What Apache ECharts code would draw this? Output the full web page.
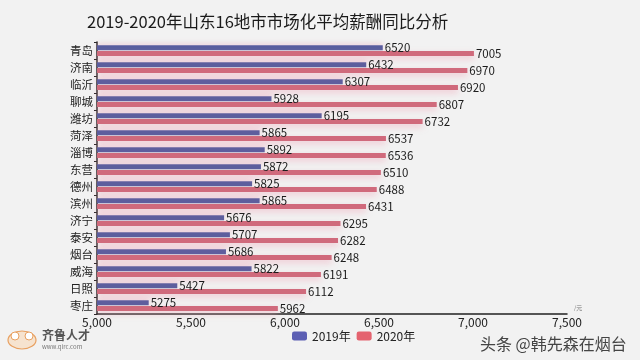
<!DOCTYPE html>
<html><head><meta charset="utf-8">
<script src="https://cdn.jsdelivr.net/npm/echarts@6/dist/echarts.min.js"></script>
<style>html,body{margin:0;padding:0;background:#f2f2f2}#c{width:640px;height:360px}</style>
</head><body><div id="c"></div>
<script>
const cities = ['青岛','济南','临沂','聊城','潍坊','菏泽','淄博','东营','德州','滨州','济宁','泰安','烟台','威海','日照','枣庄'];
const v2019 = [6520,6432,6307,5928,6195,5865,5892,5872,5825,5865,5676,5707,5686,5822,5427,5275];
const v2020 = [7005,6970,6920,6807,6732,6537,6536,6510,6488,6431,6295,6282,6248,6191,6112,5962];
const seriesNames = ['2019年','2020年'];
const xMin = 5000, xMax = 7500, xStep = 500;

const font = '"Noto Sans CJK SC", "Noto Sans", sans-serif';
const chart = echarts.init(document.getElementById('c'), null, {renderer:'canvas'});
chart.setOption({
  backgroundColor:'#f2f2f2',
  textStyle:{fontFamily:font},
  title:{text:'2019-2020年山东16地市市场化平均薪酬同比分析', left:82, top:8,
    textStyle:{fontSize:16.5, fontWeight:'normal', color:'#1a1a1a', fontFamily:font}},
  grid:{left:97, right:73, top:42, bottom:46},
  legend:{bottom:13, left:287, itemWidth:15, itemHeight:9, itemGap:6,
    textStyle:{fontSize:12, color:'#222', fontFamily:font},
    data:[{name:seriesNames[0], icon:'roundRect', itemStyle:{color:'#5c5fb3'}},
          {name:seriesNames[1], icon:'roundRect', itemStyle:{color:'#e4636f'}}]},
  xAxis:{type:'value', min:xMin, max:xMax, interval:xStep,
    axisLine:{show:true, lineStyle:{color:'#222', width:1.5}},
    axisTick:{show:false}, splitLine:{show:false},
    axisLabel:{fontSize:12, color:'#222', margin:2,
      formatter:v=>v.toLocaleString('en-US')}},
  yAxis:{type:'category', data:cities, inverse:true,
    axisLine:{show:true, lineStyle:{color:'#222', width:1.5}},
    axisTick:{show:true, length:3, lineStyle:{color:'#222'}},
    axisLabel:{fontSize:11.5, color:'#222', margin:4}},
  series:[
    {name:seriesNames[0], type:'bar', data:v2019, barWidth:5, barGap:'15%',
     itemStyle:{color:'#5a5d9f', shadowColor:'rgba(240,170,190,0.45)', shadowBlur:5, shadowOffsetY:-2},
     label:{show:true, position:'right', distance:2, fontSize:11.5, color:'#1a1a1a', fontFamily:font}},
    {name:seriesNames[1], type:'bar', data:v2020, barWidth:5,
     itemStyle:{color:'#d06a7c', shadowColor:'rgba(240,160,180,0.5)', shadowBlur:6, shadowOffsetY:3},
     label:{show:true, position:'right', distance:2, fontSize:11.5, color:'#1a1a1a', fontFamily:font}}
  ],
  graphic:[
    {type:'text', left:574, top:305, style:{text:'/元', fontSize:6, fill:'#777', fontFamily:font}},
    {type:'text', left:480, top:336, style:{text:'头条 @韩先森在烟台', fontSize:16, fill:'#444', fontFamily:font}},
    {type:'ellipse', shape:{cx:22, cy:340, rx:14, ry:9}, style:{fill:'#f6e3cf', stroke:'#e8a060', lineWidth:1.2}},
    {type:'circle', shape:{cx:15, cy:336, r:4}, style:{fill:'#fff', stroke:'#e8a060', lineWidth:1}},
    {type:'circle', shape:{cx:29, cy:336, r:4}, style:{fill:'#fff', stroke:'#e8a060', lineWidth:1}},
    {type:'text', left:42, top:329, style:{text:'齐鲁人才', fontSize:12, fontWeight:'bold', fill:'#555', fontFamily:font}},
    {type:'text', left:42, top:344, style:{text:'www.qlrc.com', fontSize:6, fill:'#777', fontFamily:font}}
  ]
});
</script></body></html>
